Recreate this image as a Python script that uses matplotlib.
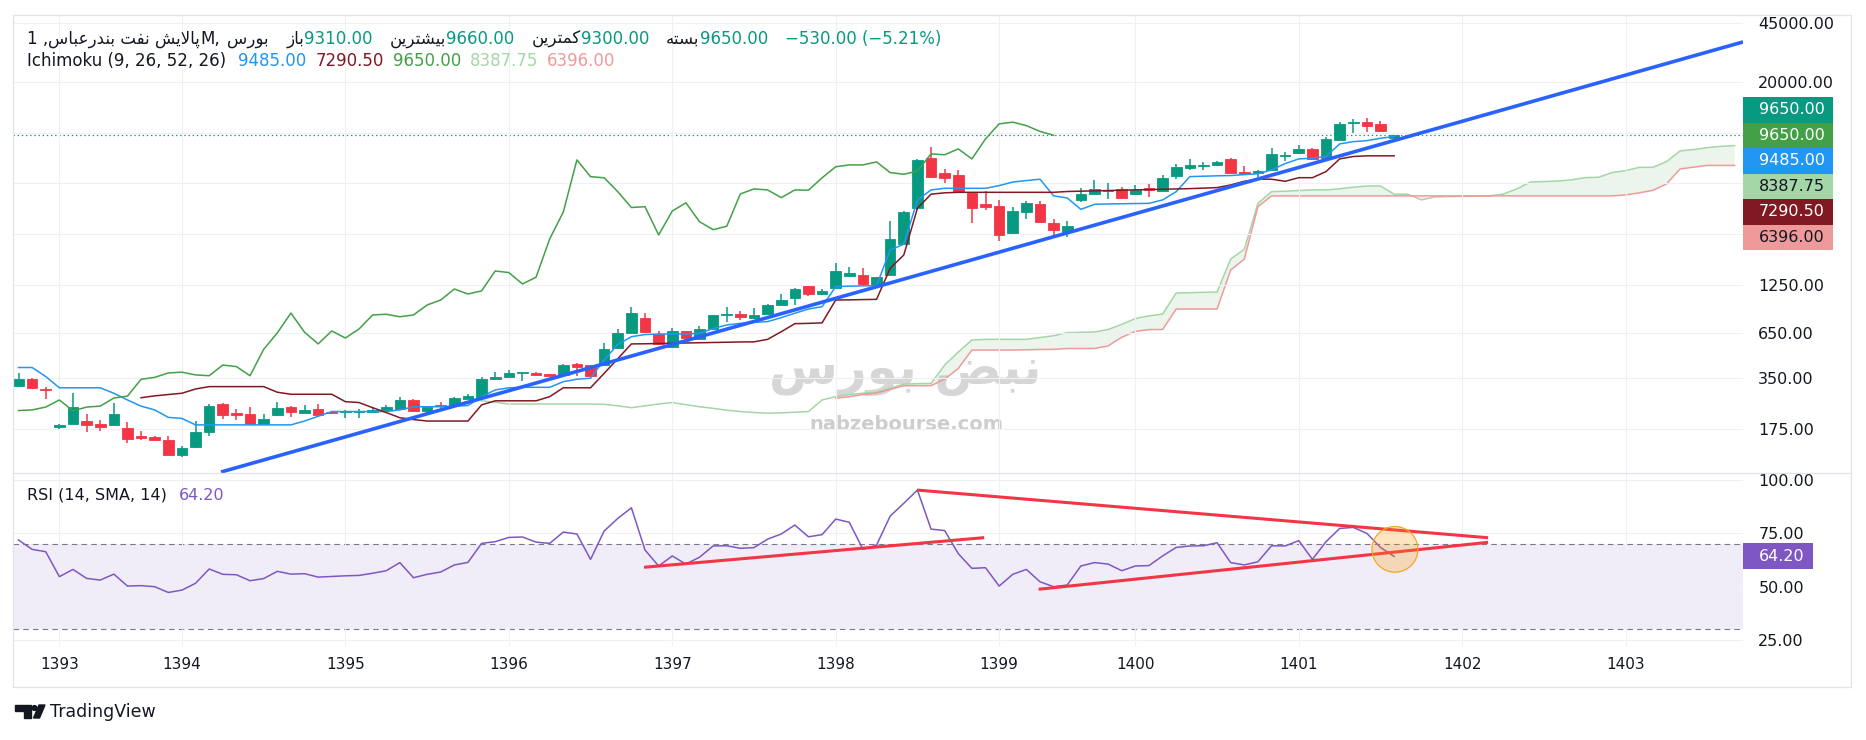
import matplotlib
matplotlib.use('Agg')
import matplotlib.pyplot as plt
from matplotlib.patches import Ellipse, Rectangle, Polygon, Circle
from matplotlib.ticker import NullLocator
import numpy as np

plt.rcParams['font.family'] = ['DejaVu Sans']
plt.rcParams['lines.scale_dashes'] = False

# ---------------- data: monthly bars, index 0 = first visible bar ----------------
years = [1393, 1394, 1395, 1396, 1397, 1398, 1399, 1400, 1401, 1402, 1403]
year_bar = [3, 12, 24, 36, 48, 60, 72, 82, 94, 106, 118]

opens = [316, 345, 301, 180, 188, 195, 188, 185, 177, 158,
         156, 150, 123, 136, 168, 246, 219, 215, 188, 213,
         236, 219, 230, 222, 221, 221, 221, 227, 230, 260,
         224, 242, 243, 263, 272, 345, 358, 375, 374, 370,
         367, 425, 419, 419, 527, 652, 797, 638, 538, 667,
         601, 684, 826, 841, 794, 838, 955, 1040, 1233, 1100,
         1206, 1412, 1433, 1255, 1440, 2197, 3580, 7115, 5770, 5640,
         4380, 3800, 3680, 2544, 3380, 3780, 2905, 2590, 3992, 4350,
         4515, 4640, 4350, 4680, 4515, 5540, 6180, 6350, 6390, 6990,
         5840, 5780, 6040, 7310, 7530, 8015, 7070, 9100, 11400, 11600,
         11280, 9310]
highs = [374, 350, 312, 186, 285, 215, 198, 248, 192, 170,
         159, 159, 139, 195, 246, 250, 231, 236, 215, 252,
         238, 243, 246, 225, 227, 229, 232, 243, 270, 263,
         238, 252, 270, 282, 354, 381, 391, 382, 380, 372,
         425, 430, 421, 566, 681, 927, 848, 667, 699, 670,
         709, 835, 929, 877, 909, 968, 1105, 1206, 1240, 1178,
         1681, 1598, 1579, 1400, 2999, 3440, 6960, 8270, 6076, 6015,
         4420, 4515, 3992, 3620, 3940, 3940, 3070, 3000, 4684, 5247,
         5018, 4760, 4880, 4950, 5600, 6530, 6960, 6740, 6810, 7090,
         6330, 6015, 8100, 7690, 8464, 8100, 9440, 11550, 12030, 12250,
         11700, 9660]
lows = [312, 302, 262, 174, 186, 168, 170, 183, 145, 150,
        149, 123, 120, 135, 158, 201, 198, 188, 186, 208,
        205, 217, 212, 214, 203, 204, 220, 226, 229, 222,
        222, 229, 241, 262, 270, 343, 356, 338, 364, 360,
        365, 361, 360, 417, 520, 648, 650, 548, 535, 578,
        598, 680, 758, 780, 790, 832, 951, 955, 1080, 1095,
        1200, 1393, 1238, 1198, 1430, 2150, 3500, 5400, 5057, 4400,
        2905, 3500, 2290, 2510, 3095, 2950, 2440, 2394, 3900, 4300,
        4065, 4050, 4330, 4180, 4480, 5300, 6015, 6015, 6330, 5750,
        5640, 5490, 6000, 6800, 7500, 6950, 7000, 9050, 9930, 10150,
        10030, 9300]
closes = [345, 305, 297, 184, 236, 185, 180, 215, 153, 155,
          150, 123, 135, 168, 239, 213, 213, 188, 201, 233,
          222, 227, 213, 217, 223, 225, 227, 236, 260, 224,
          236, 239, 267, 274, 345, 354, 376, 380, 366, 362,
          419, 410, 362, 519, 649, 852, 656, 559, 667, 606,
          685, 830, 838, 810, 830, 951, 1018, 1183, 1105, 1153,
          1513, 1481, 1268, 1390, 2343, 3388, 6895, 5487, 5400, 4470,
          3600, 3640, 2475, 3430, 3840, 2967, 2660, 2786, 4334, 4640,
          4577, 4120, 4577, 4560, 5400, 6280, 6440, 6440, 6710, 5800,
          5670, 5925, 7485, 7400, 8015, 6990, 9190, 11280, 11550, 11010,
          10180, 9650]

# Ichimoku lines
tenkan = [405, 405, 358, 307, 307, 307, 307, 285, 260, 239,
          227, 205, 202, 185, 185, 185, 185, 185, 185, 185,
          185, 195, 208, 222, 222, 222, 222, 222, 227, 237,
          237, 237, 239, 241, 272, 298, 307, 309, 309, 309,
          334, 345, 350, 450, 555, 617, 635, 640, 640, 640,
          646, 690, 724, 740, 750, 758, 800, 850, 900, 929,
          1222, 1230, 1235, 1238, 2016, 2180, 3992, 4577, 4680, 4680,
          4680, 4680, 4855, 5100, 5200, 5300, 4220, 4100, 3510, 3760,
          3780, 3790, 3800, 3810, 3992, 4470, 5490, 5520, 5550, 5570,
          5640, 5710, 6015, 6560, 6990, 7060, 7225, 8580, 8850, 8970,
          9270, 9485]
kijun_start = 9
kijun = [268, 275, 280, 285, 302, 312, 312, 312, 312, 312,
         289, 281, 281, 281, 281, 254, 251, 234, 219, 204,
         199, 195, 195, 195, 195, 243, 257, 257, 257, 257,
         272, 307, 307, 307, 374, 457, 559, 560, 562, 564,
         566, 568, 570, 572, 574, 575, 595, 660, 737, 740,
         745, 1018, 1020, 1024, 1027, 1570, 1883, 3565, 4320, 4400,
         4430, 4430, 4430, 4430, 4430, 4430, 4430, 4430, 4480, 4500,
         4520, 4540, 4560, 4580, 4600, 4620, 4640, 4660, 4690, 4725,
         4900, 5150, 5300, 5300, 5150, 5410, 5410, 5880, 6990, 7225,
         7290.5, 7290.5, 7290.5]
span_a_start = 34
span_a = [257, 252, 246, 246, 246, 246, 246, 246, 246, 245,
          240, 234, 240, 246, 251, 244, 237, 232, 226, 222,
          219, 217, 218, 220, 222, 260, 272, 280, 285, 289,
          305, 323, 325, 326, 419, 500, 590, 595, 595, 595,
          595, 610, 625, 652, 655, 658, 680, 730, 790, 820,
          840, 1120, 1125, 1130, 1135, 1780, 2035, 3810, 4470, 4500,
          4540, 4577, 4577, 4650, 4750, 4830, 4830, 4320, 4320, 3992,
          4160, 4180, 4190, 4200, 4220, 4320, 4640, 5100, 5130, 5170,
          5247, 5410, 5440, 5800, 5960, 6230, 6230, 6740, 7800, 7950,
          8150, 8300, 8387.75]
span_b_start = 60
span_b = [266, 272, 280, 286, 300, 316, 316, 316, 345, 400,
          514, 514, 514, 514, 516, 518, 519, 525, 525, 525,
          544, 612, 663, 680, 680, 900, 900, 900, 900, 1534,
          1780, 3640, 4220, 4220, 4220, 4220, 4220, 4220, 4220, 4220,
          4220, 4220, 4220, 4220, 4220, 4220, 4220, 4220, 4220, 4220,
          4220, 4220, 4220, 4220, 4220, 4220, 4220, 4220, 4275, 4400,
          4550, 4970, 6100, 6250, 6396, 6396, 6396]
chikou_shift = 25

rsi_vals = [71.9, 67.5, 66.4, 54.7, 58.1, 53.9, 53.1, 55.9, 50.3, 50.5,
            50.0, 47.3, 48.4, 51.6, 58.3, 55.8, 55.6, 52.8, 53.8, 57.2,
            55.9, 56.1, 54.5, 54.8, 55.1, 55.3, 56.3, 57.5, 61.3, 54.2,
            55.8, 56.9, 60.2, 61.4, 70.3, 71.1, 73.1, 73.3, 70.9, 70.3,
            75.6, 74.7, 62.8, 76.1, 82.0, 87.0, 67.2, 59.7, 64.4, 60.6,
            63.8, 69.1, 69.2, 68.0, 68.3, 72.3, 74.7, 78.9, 73.4, 74.4,
            81.7, 80.2, 67.5, 69.5, 83.1, 89.1, 95.3, 77.0, 76.3, 65.5,
            58.6, 58.9, 50.3, 55.8, 58.1, 52.3, 50.0, 50.8, 59.7, 61.3,
            60.6, 57.5, 59.7, 59.9, 64.4, 68.4, 69.1, 69.2, 70.6, 61.3,
            60.2, 61.7, 69.2, 69.1, 71.6, 62.8, 71.1, 77.3, 77.8, 75.0,
            68.4, 64.2]

# user drawings (bar index, value)
trend_bar = [14.87, 126.62]
trend_price = [97.2, 34540]
rsi_line_bars = [[45.93, 70.9], [65.97, 107.9], [74.9, 107.9]]
rsi_line_vals = [[59.1, 73.0], [95.3, 72.95], [48.8, 70.8]]
circle_bar, circle_rsi = 101.06, 67.5

price_levels = [45000, 20000, 10000, 5000, 2500, 1250, 650, 350, 175]
price_labels = ['45000.00', '20000.00', '', '', '', '1250.00', '650.00', '350.00', '175.00']
rsi_levels = [100, 75, 50, 25]

symbol_name = 'پالایش نفت بندرعباس'
exchange = 'بورس'
ohlc_names = ['باز', 'بیشترین', 'کمترین', 'بسته']

# ---------------- colours ----------------
INK = '#131722'
UP, DOWN = '#089981', '#f23645'
GRID = '#eef0f3'
FRAME = '#e0e3eb'
C_TENKAN, C_KIJUN, C_CHIKOU = '#2196f3', '#801922', '#43a047'
C_SPANA, C_SPANB = '#a5d6a7', '#ef9a9a'
C_RSI = '#7e57c2'

# ---------------- minimal Persian shaping (matplotlib has no bidi) ----------------
FORMS = {
    'ا': ('\uFE8D', '\uFE8E', None, None), 'ب': ('\uFE8F', '\uFE90', '\uFE91', '\uFE92'),
    'پ': ('\uFB56', '\uFB57', '\uFB58', '\uFB59'), 'ت': ('\uFE95', '\uFE96', '\uFE97', '\uFE98'),
    'د': ('\uFEA9', '\uFEAA', None, None), 'ر': ('\uFEAD', '\uFEAE', None, None),
    'ز': ('\uFEAF', '\uFEB0', None, None), 'س': ('\uFEB1', '\uFEB2', '\uFEB3', '\uFEB4'),
    'ش': ('\uFEB5', '\uFEB6', '\uFEB7', '\uFEB8'), 'ض': ('\uFEBD', '\uFEBE', '\uFEBF', '\uFEC0'),
    'ع': ('\uFEC9', '\uFECA', '\uFECB', '\uFECC'), 'ف': ('\uFED1', '\uFED2', '\uFED3', '\uFED4'),
    'ک': ('\uFB8E', '\uFB8F', '\uFB90', '\uFB91'), 'ل': ('\uFEDD', '\uFEDE', '\uFEDF', '\uFEE0'),
    'م': ('\uFEE1', '\uFEE2', '\uFEE3', '\uFEE4'), 'ن': ('\uFEE5', '\uFEE6', '\uFEE7', '\uFEE8'),
    'ه': ('\uFEE9', '\uFEEA', '\uFEEB', '\uFEEC'), 'و': ('\uFEED', '\uFEEE', None, None),
    'ی': ('\uFBFC', '\uFBFD', '\uFBFE', '\uFBFF'), 'لا': ('\uFEFB', '\uFEFC', None, None),
}


def shape(text):
    toks, i = [], 0
    while i < len(text):
        if text[i] == 'ل' and i + 1 < len(text) and text[i + 1] == 'ا':
            toks.append('لا')
            i += 2
        else:
            toks.append(text[i])
            i += 1
    out = []
    for k, t in enumerate(toks):
        if t not in FORMS:
            out.append(t)
            continue
        prev = toks[k - 1] if k > 0 else None
        nxt = toks[k + 1] if k + 1 < len(toks) else None
        jp = prev in FORMS and FORMS[prev][2] is not None
        jn = FORMS[t][2] is not None and nxt in FORMS
        iso, fin, ini, med = FORMS[t]
        out.append(med if jp and jn else fin if jp else ini if jn else iso)
    return ''.join(reversed(out))


def fmt(v):
    return f'{v:.2f}'.replace('-', '\u2212')


# ---------------- figure ----------------
W, H = 1866, 740
fig = plt.figure(figsize=(W / 100, H / 100), dpi=100)
fig.patch.set_facecolor('white')

L, R = 13, 1743
ax = fig.add_axes([L / W, 1 - 473 / H, (R - L) / W, (473 - 15) / H])
rs = fig.add_axes([L / W, 1 - 646 / H, (R - L) / W, (646 - 473) / H])
xlim = ((L - 18.5) / 13.62, (R - 18.5) / 13.62)

idx = np.arange(len(closes))
o, h, l, c = map(np.array, (opens, highs, lows, closes))

# ---- main pane ----
ax.set_yscale('log')
ax.set_xlim(*xlim)
ax.set_ylim(95.9, 49890)
ax.yaxis.set_minor_locator(NullLocator())
ax.set_yticks(price_levels)
ax.set_yticklabels(price_labels)
ax.yaxis.tick_right()
ax.tick_params(axis='y', length=0, pad=11, labelsize=11.5, labelcolor=INK)
ax.set_xticks(year_bar)
ax.tick_params(axis='x', length=0, labelbottom=False)
ax.grid(True, color=GRID, lw=0.8, zorder=0)
ax.patch.set_visible(False)
for sp in ax.spines.values():
    sp.set_visible(False)

# cloud
xa = np.arange(span_a_start, span_a_start + len(span_a))
xb = np.arange(span_b_start, span_b_start + len(span_b))
a_arr, b_arr = np.array(span_a), np.array(span_b)
a_over = a_arr[span_b_start - span_a_start:]
ax.fill_between(xb, a_over, b_arr, where=a_over >= b_arr, interpolate=True,
                color=C_CHIKOU, alpha=0.1, lw=0, zorder=1)
ax.fill_between(xb, a_over, b_arr, where=a_over < b_arr, interpolate=True,
                color='#f44336', alpha=0.1, lw=0, zorder=1)
ax.plot(xa, span_a, color=C_SPANA, lw=1.1, zorder=1.2)
ax.plot(xb, span_b, color=C_SPANB, lw=1.1, zorder=1.2)

# price line
ax.axhline(closes[-1], color=UP, lw=0.9, ls=(0, (1, 2)), zorder=1.3)

# candles
col = np.where(c >= o, UP, DOWN)
ax.vlines(idx, l, h, colors=col, lw=1.1, zorder=2)
bot, top = np.minimum(o, c), np.maximum(o, c)
ax.bar(idx, top - bot, bottom=bot, width=0.78, color=col, edgecolor=col, lw=0.6, zorder=2.1)

# ichimoku lines
ax.plot(idx, tenkan, color=C_TENKAN, lw=1.1, zorder=3)
ax.plot(np.arange(kijun_start, kijun_start + len(kijun)), kijun, color=C_KIJUN, lw=1.1, zorder=3)
ax.plot(idx[:-chikou_shift], closes[chikou_shift:], color=C_CHIKOU, lw=1.1, zorder=3)

# trend line
ax.plot(trend_bar, trend_price, color='#2962ff', lw=2.6, solid_capstyle='butt', zorder=4)

# ---- RSI pane ----
rs.set_xlim(*xlim)
rs.set_ylim(22.2, 103.3)
rs.set_yticks(rsi_levels)
rs.set_yticklabels([f'{v:.2f}' for v in rsi_levels])
rs.yaxis.tick_right()
rs.tick_params(axis='y', length=0, pad=11, labelsize=11.5, labelcolor=INK)
rs.set_xticks(year_bar)
rs.set_xticklabels([str(y) for y in years])
rs.tick_params(axis='x', length=0, pad=8, labelsize=11, labelcolor=INK)
rs.grid(True, color=GRID, lw=0.8, zorder=0)
for sp in rs.spines.values():
    sp.set_visible(False)
rs.axhspan(30, 70, color=C_RSI, alpha=0.1, lw=0, zorder=0.5)
for lev in (70, 30):
    rs.axhline(lev, color='#787b86', lw=0.8, ls=(0, (4, 3)), zorder=0.6)
rs.plot(idx, rsi_vals, color=C_RSI, lw=1.1, zorder=3)
for bx, by in zip(rsi_line_bars, rsi_line_vals):
    rs.plot(bx, by, color=DOWN, lw=2.2, solid_capstyle='butt', zorder=4)
rs.add_patch(Ellipse((circle_bar, circle_rsi), 3.38, 21.4, facecolor=(1, 0.6, 0, 0.25),
                     edgecolor='#f5a623', lw=0.9, zorder=5))

# ---- watermark (under the chart) ----
fig.text(905 / W, 1 - 372 / H, shape('نبض بورس'), fontsize=36, fontweight='bold',
         color='#d6d6d6', ha='center', va='center', zorder=-1)
fig.text(906 / W, 1 - 424 / H, 'nabzebourse.com', fontsize=14, fontweight='bold',
         color='#cdcdcd', ha='center', va='center', zorder=-1)

# ---- overlay in pixel coordinates: frame, legends, price labels ----
ov = fig.add_axes([0, 0, 1, 1])
ov.set_zorder(5)
ov.set_xlim(0, W)
ov.set_ylim(H, 0)
ov.axis('off')
ov.patch.set_visible(False)

for xs, ys in (([L, 1851], [15, 15]), ([L, 1851], [473, 473]), ([L, 1851], [687, 687]),
               ([L, L], [15, 687]), ([1851, 1851], [15, 687])):
    ov.plot(xs, ys, color=FRAME, lw=0.9)

renderer = fig.canvas.get_renderer()


def put_row(x, y, parts, size=12):
    for s, color, gap in parts:
        t = ov.text(x, y, s, color=color, fontsize=size, ha='left', va='center')
        x += t.get_window_extent(renderer=renderer).width + gap
    return x


chg = closes[-1] - closes[-2]
pct = chg / closes[-2] * 100
row1 = [('1 ,', INK, 0), (shape(symbol_name), INK, 0), ('M,', INK, 7), (shape(exchange), INK, 18)]
for name, val in zip(ohlc_names, [opens[-1], highs[-1], lows[-1], closes[-1]]):
    row1 += [(shape(name), INK, 0), (fmt(val), UP, 17)]
row1 += [(f'{fmt(chg)} ({fmt(pct)}%)', UP, 0)]
put_row(27, 39, row1)

row2 = [('Ichimoku (9, 26, 52, 26)', INK, 12),
        (fmt(tenkan[-1]), C_TENKAN, 9), (fmt(kijun[-1]), C_KIJUN, 9),
        (fmt(closes[-1]), C_CHIKOU, 9), (fmt(span_a[-1]), C_SPANA, 9),
        (fmt(span_b[-1]), C_SPANB, 0)]
put_row(27, 61, row2)
put_row(27, 495, [('RSI (14, SMA, 14)', INK, 12), (fmt(rsi_vals[-1]), C_RSI, 0)], size=11.5)

# stacked last-value labels on the price scale
box_vals = [closes[-1], closes[-1], tenkan[-1], span_a[-1], kijun[-1], span_b[-1]]
box_cols = [UP, C_CHIKOU, C_TENKAN, C_SPANA, C_KIJUN, C_SPANB]
box_txt = ['white', 'white', 'white', INK, 'white', INK]
bh = 25.5
for k, (v, bc, tc) in enumerate(zip(box_vals, box_cols, box_txt)):
    y0 = 97 + k * bh
    ov.add_patch(Rectangle((R, y0), 90, bh, facecolor=bc, edgecolor='none'))
    ov.text(R + 16, y0 + bh / 2, fmt(v), color=tc, fontsize=11.5, ha='left', va='center')

ry = H - rs.transData.transform((0, rsi_vals[-1]))[1]
ov.add_patch(Rectangle((R, ry - 13), 70, 26, facecolor=C_RSI, edgecolor='none'))
ov.text(R + 16, ry, fmt(rsi_vals[-1]), color='white', fontsize=11.5, ha='left', va='center')

# TradingView mark
ov.add_patch(Polygon([(15, 705), (31, 705), (31, 718), (24, 718), (24, 710.5), (15, 710.5)],
                     closed=True, color=INK))
ov.add_patch(Circle((34.5, 708), 2.4, color=INK))
ov.add_patch(Polygon([(39, 705), (45, 705), (39.5, 718), (33.5, 718)], closed=True, color=INK))
ov.text(50, 712, 'TradingView', fontsize=12.5, color=INK, ha='left', va='center')

fig.savefig('out.png', dpi=100, facecolor='white')
